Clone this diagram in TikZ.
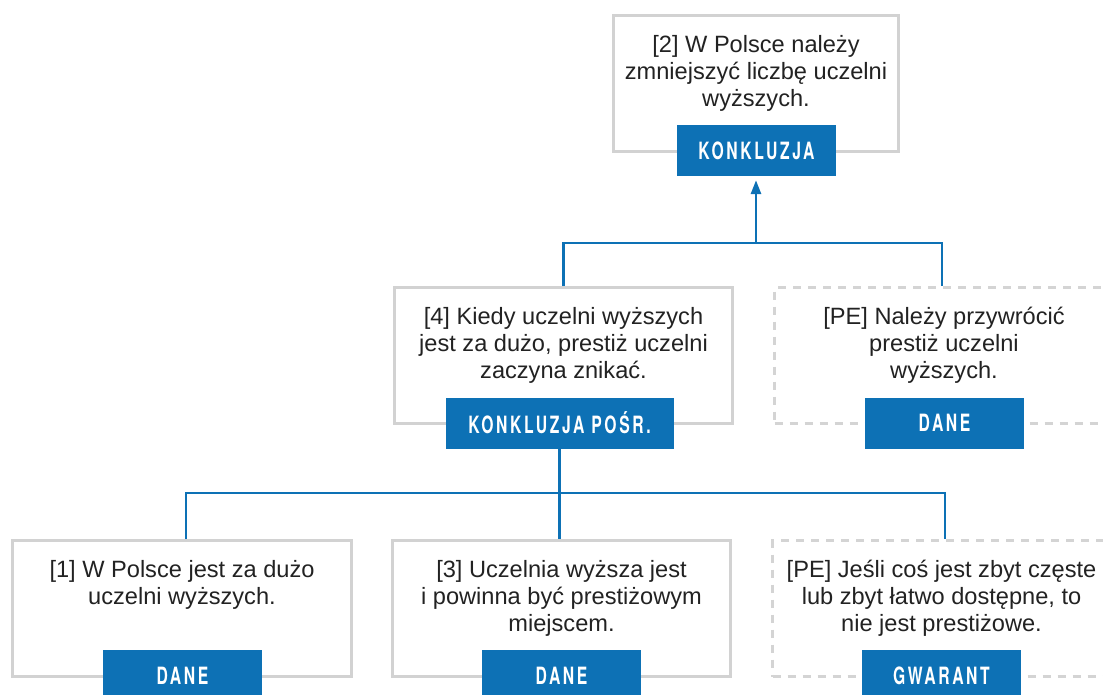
\documentclass[tikz,border=0pt]{standalone}
\usepackage{fontspec}
\setmainfont{Liberation Sans}
\newfontfamily\tagfont[FakeStretch=0.66,LetterSpace=11]{TeX Gyre Heros}
\usetikzlibrary{arrows.meta}

\definecolor{argblue}{RGB}{13,113,181}
\definecolor{framegray}{RGB}{210,210,210}
\definecolor{dashgray}{RGB}{212,212,212}
\definecolor{ink}{RGB}{34,34,34}

\tikzset{
  premise/.style={rectangle, draw=framegray, line width=3pt, fill=white,
    minimum width=#1, minimum height=136pt, inner sep=0pt},
  premise/.default=339pt,
  hidden/.style={premise=#1, draw=dashgray, dash pattern=on 8pt off 7pt},
  hidden/.default=339pt,
  stmt/.style={anchor=north, align=center, inner sep=0pt, text=ink,
    font=\fontsize{23.6}{27}\selectfont},
  tag/.style={rectangle, fill=argblue, text=white, inner sep=0pt,
    minimum width=#1, minimum height=51pt,
    font=\tagfont\bfseries\fontsize{23.8}{24}\selectfont},
  tag/.default=159pt,
  link/.style={draw=argblue, line width=2.8pt},
  arrowlink/.style={link, -{Triangle[length=14pt,width=10pt]}, shorten >=4pt},
}

\begin{document}
\begin{tikzpicture}[x=1pt, y=-1pt]
  \path[use as bounding box] (0,0) rectangle (1103,695);
  \clip (0,0) rectangle (1103,695);

  % junction points of the connectors
  \coordinate (upper) at (756,243);
  \coordinate (lower) at (559.5,493);

  % statement boxes
  \node[premise=285pt] (b2) at (756,83.5) {};
  \node[premise=338pt] (b4) at (563.5,355.5) {};
  \node[hidden=335pt] (pe1) at (942,355.5) {};
  \node[premise] (b1) at (182,608.5) {};
  \node[premise=338pt] (b3) at (561.5,608.5) {};
  \node[hidden=345pt] (pe2) at (945,608.5) {};

  % statement texts
  \node[stmt] (t2) at ([yshift=-19.5pt]b2.north)
    {\strut[2] W Polsce należy\\zmniejszyć liczbę uczelni\\wyższych.};
  \node[stmt] (t4) at ([yshift=-19.5pt]b4.north)
    {\strut[4] Kiedy uczelni wyższych\\jest za dużo, prestiż uczelni\\zaczyna znikać.};
  \node[stmt] (tpe1) at ([xshift=2pt,yshift=-19.5pt]pe1.north)
    {\strut[PE] Należy przywrócić\\prestiż uczelni\\wyższych.};
  \node[stmt] (t1) at ([yshift=-19.5pt]b1.north)
    {\strut[1] W Polsce jest za dużo\\uczelni wyższych.};
  \node[stmt] (t3) at ([yshift=-19.5pt]b3.north)
    {\strut[3] Uczelnia wyższa jest\\i powinna być prestiżowym\\miejscem.};
  \node[stmt] (tpe2) at ([xshift=-3.5pt,yshift=-19.5pt]pe2.north)
    {\strut[PE] Jeśli coś jest zbyt częste\\lub zbyt łatwo dostępne, to\\nie jest prestiżowe.};

  % role tags
  \node[tag] (k2) at (756.5,150.5) {KONKLUZJA};
  \node[tag=228pt] (k4) at (559.5,423) {KONKLUZJA POŚR.};
  \node[tag] (kpe1) at (944.5,423) {DANE};
  \node[tag] (k1) at (182.5,675.5) {DANE};
  \node[tag] (k3) at (561.5,675.5) {DANE};
  \node[tag] (kpe2) at (941.5,675.5) {GWARANT};

  % upper level: premises support the conclusion
  \draw[link] (b4.north) |- (upper) -| (pe1.north);
  \draw[arrowlink] (upper) -- (upper |- k2.south);

  % lower level: premises support the intermediate conclusion
  \draw[link] (lower |- k4.south) -- (lower);
  \draw[link] ([xshift=4pt]b1.north) |- (lower) -| (pe2.north);
  \draw[link] (lower) -- (lower |- b3.north);
\end{tikzpicture}
\end{document}
